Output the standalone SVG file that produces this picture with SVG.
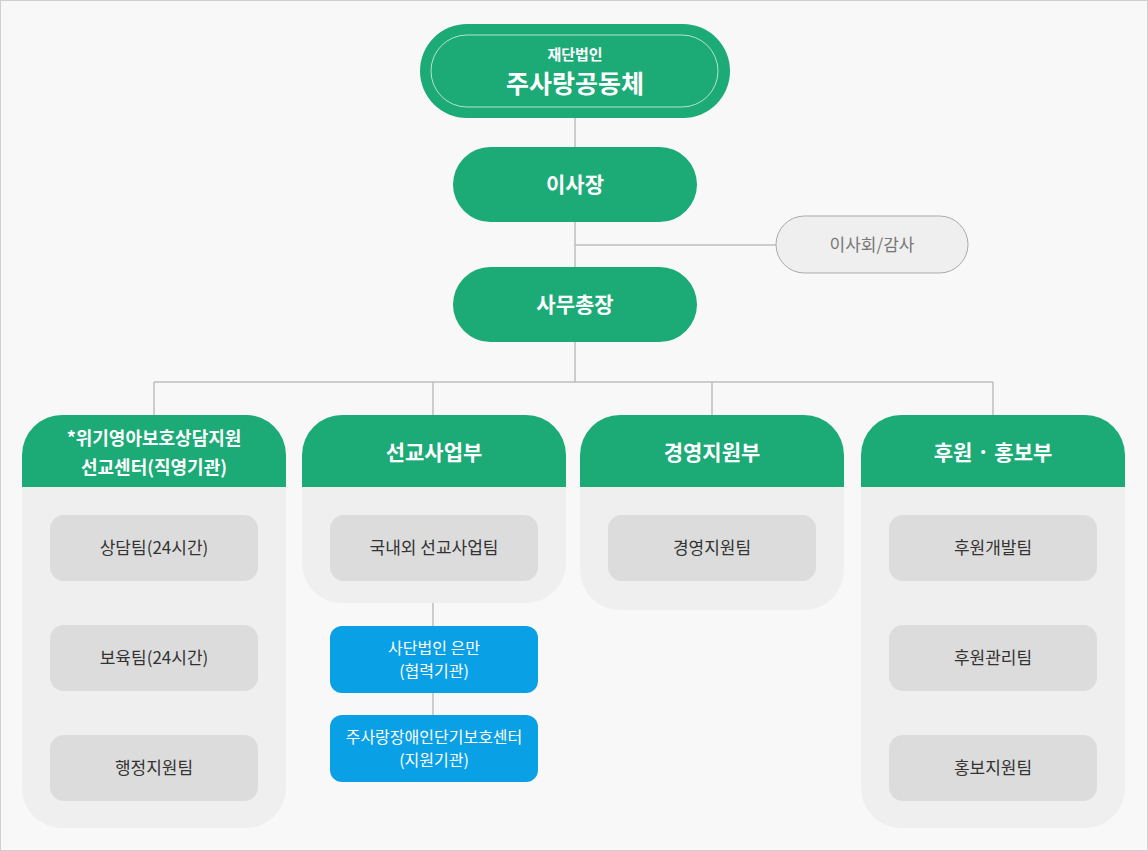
<svg xmlns="http://www.w3.org/2000/svg" width="1148" height="851" viewBox="0 0 1148 851">
<style>
text{font-family:"Noto Sans CJK KR","Noto Sans",sans-serif;text-anchor:middle}
.g{fill:#1caa77}
.w{fill:#fff}
.body{fill:#efefef}
.team{fill:#dcdcdc}
.tt{fill:#333;font-size:17px}
.blue{fill:#0aa0e6}
.ln{stroke:#bdbdbd;stroke-width:1.5;fill:none}
</style>
<rect x="0.5" y="0.5" width="1147" height="850" fill="#f8f8f8" stroke="#d0d0d0"/>
<g id="connectors" class="ln">
<path d="M575 118V267M575 245H776M575 342V382M154 382H993M154 382V415M433 382V415M712 382V415M993 382V415M433 603V715"/>
</g>
<g id="root">
<rect x="420" y="24" width="310" height="94" rx="47" class="g"/>
<rect x="431" y="35" width="287" height="72" rx="36" fill="none" stroke="#b5e3cf" stroke-width="1"/>
<text x="575" y="60" class="w" font-size="15" font-weight="bold">재단법인</text>
<text x="575" y="93" class="w" font-size="25" font-weight="bold">주사랑공동체</text>
</g>
<g id="chair"><rect x="453" y="147" width="244" height="75" rx="37.5" class="g"/><text x="575" y="192" class="w" font-size="21" font-weight="bold">이사장</text></g>
<g id="board"><rect x="776" y="216" width="192" height="57" rx="28.5" fill="#efefef" stroke="#aaa"/><text x="872" y="251" fill="#777" font-size="17">이사회/감사</text></g>
<g id="sg"><rect x="453" y="267" width="244" height="75" rx="37.5" class="g"/><text x="575" y="312" class="w" font-size="21" font-weight="bold">사무총장</text></g>

<g id="dept1">
<path d="M22 487V455a40 40 0 0 1 40-40H246a40 40 0 0 1 40 40V487Z" class="g"/>
<path d="M22 487H286V788a40 40 0 0 1-40 40H62a40 40 0 0 1-40-40Z" class="body"/>
<text x="154" y="445" class="w" font-size="18" font-weight="bold">*위기영아보호상담지원</text>
<text x="154" y="474" class="w" font-size="18" font-weight="bold">선교센터(직영기관)</text>
<rect x="50" y="515" width="208" height="66" rx="14" class="team"/><text x="154" y="554" class="tt">상담팀(24시간)</text>
<rect x="50" y="625" width="208" height="66" rx="14" class="team"/><text x="154" y="664" class="tt">보육팀(24시간)</text>
<rect x="50" y="735" width="208" height="66" rx="14" class="team"/><text x="154" y="774" class="tt">행정지원팀</text>
</g>
<g id="dept2">
<path d="M302 487V455a40 40 0 0 1 40-40H526a40 40 0 0 1 40 40V487Z" class="g"/>
<path d="M302 487H566V563a40 40 0 0 1-40 40H342a40 40 0 0 1-40-40Z" class="body"/>
<text x="434" y="460" class="w" font-size="21" font-weight="bold">선교사업부</text>
<rect x="330" y="515" width="208" height="66" rx="14" class="team"/><text x="434" y="554" class="tt">국내외 선교사업팀</text>
</g>
<g id="partner1"><rect x="330" y="626" width="208" height="67" rx="12" class="blue"/><text x="434" y="654" class="w" font-size="16">사단법인 은만</text><text x="434" y="677" class="w" font-size="16">(협력기관)</text></g>
<g id="partner2"><rect x="330" y="715" width="208" height="67" rx="12" class="blue"/><text x="434" y="743" class="w" font-size="16">주사랑장애인단기보호센터</text><text x="434" y="766" class="w" font-size="16">(지원기관)</text></g>
<g id="dept3">
<path d="M580 487V455a40 40 0 0 1 40-40H804a40 40 0 0 1 40 40V487Z" class="g"/>
<path d="M580 487H844V570a40 40 0 0 1-40 40H620a40 40 0 0 1-40-40Z" class="body"/>
<text x="712" y="460" class="w" font-size="21" font-weight="bold">경영지원부</text>
<rect x="608" y="515" width="208" height="66" rx="14" class="team"/><text x="712" y="554" class="tt">경영지원팀</text>
</g>
<g id="dept4">
<path d="M861 487V455a40 40 0 0 1 40-40H1085a40 40 0 0 1 40 40V487Z" class="g"/>
<path d="M861 487H1125V788a40 40 0 0 1-40 40H901a40 40 0 0 1-40-40Z" class="body"/>
<text x="993" y="460" class="w" font-size="21" font-weight="bold">후원 · 홍보부</text>
<rect x="889" y="515" width="208" height="66" rx="14" class="team"/><text x="993" y="554" class="tt">후원개발팀</text>
<rect x="889" y="625" width="208" height="66" rx="14" class="team"/><text x="993" y="664" class="tt">후원관리팀</text>
<rect x="889" y="735" width="208" height="66" rx="14" class="team"/><text x="993" y="774" class="tt">홍보지원팀</text>
</g>
</svg>
